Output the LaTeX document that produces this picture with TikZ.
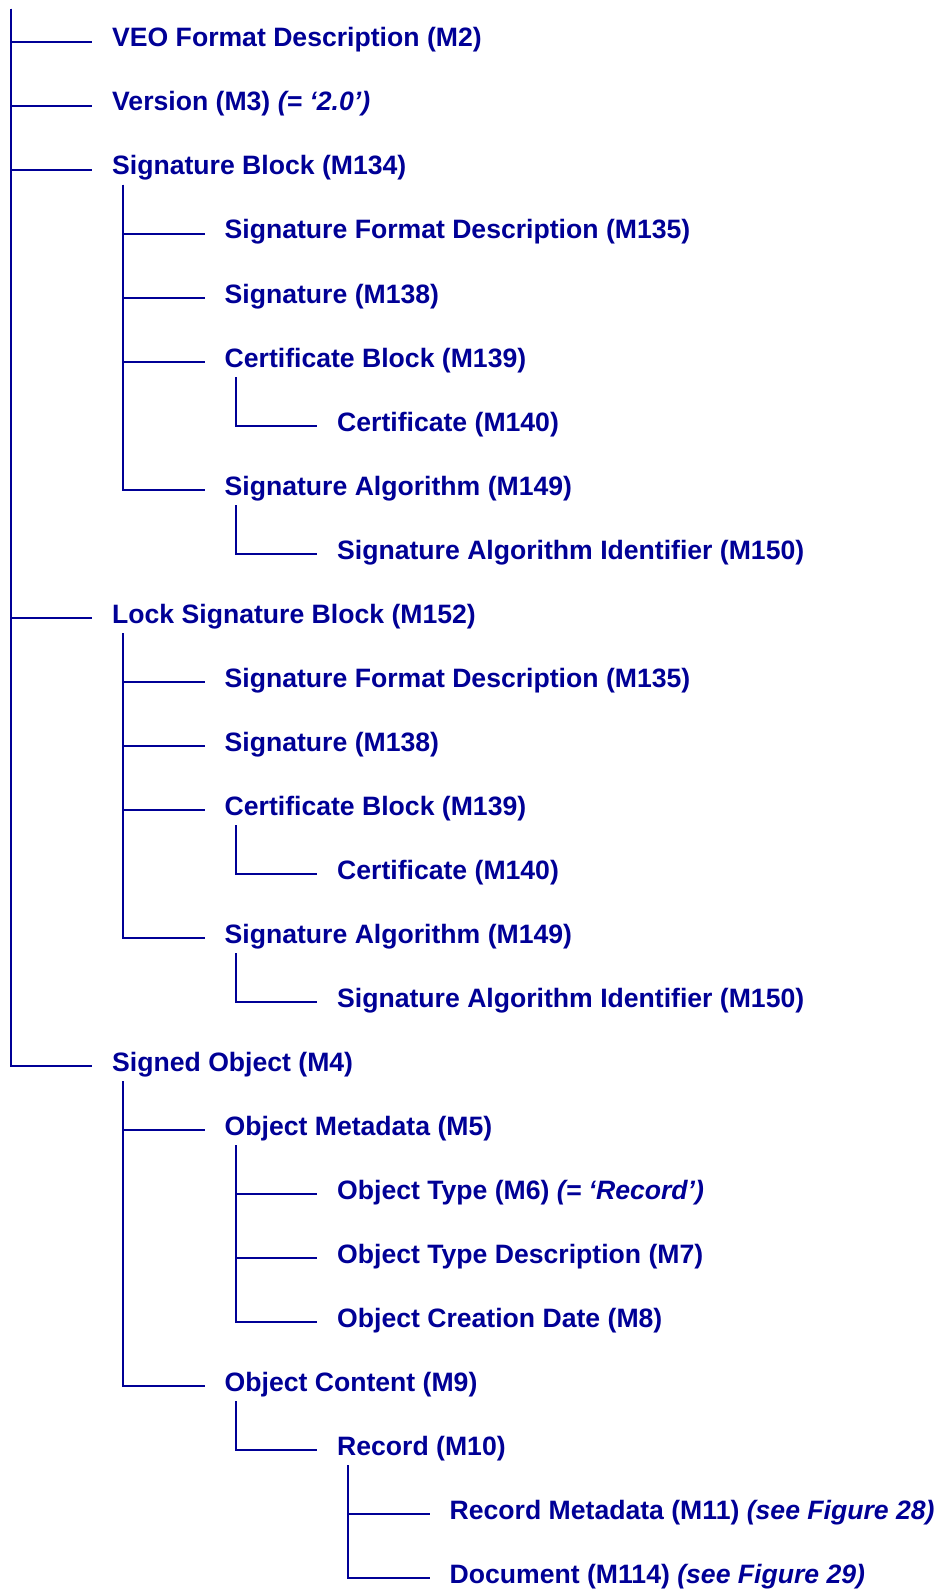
\documentclass[tikz,border=0pt]{standalone}
\usepackage{fontspec}
\setmainfont{Liberation Sans}
\definecolor{treeblue}{RGB}{0,0,150}
\begin{document}
\begin{tikzpicture}[x=1pt,y=-1pt,
  item/.style={anchor=base west, inner sep=0pt, text=treeblue,
    font=\fontsize{26.6}{32}\selectfont\bfseries},
  branch/.style={draw=treeblue, line width=2pt},
  % start of the vertical stem below a parent entry
  stem/.style={xshift=11pt, yshift=-10pt},
  % end of the horizontal branch in front of a child entry
  tip/.style={xshift=-20pt, yshift=5pt}]
\useasboundingbox (0,0) rectangle (940,1589);

% entries: baseline y = 47 + 64*row, x by level
\node[item] (veo)   at (112,47)   {VEO Format Description (M2)};
\node[item] (ver)   at (112,111)  {Version (M3) \textit{(= ‘2.0’)}};
\node[item] (sb)    at (112,175)  {Signature Block (M134)};
\node[item] (sfd1)  at (224.5,239) {Signature Format Description (M135)};
\node[item] (sig1)  at (224.5,303) {Signature (M138)};
\node[item] (cb1)   at (224.5,367) {Certificate Block (M139)};
\node[item] (cert1) at (337,431)  {Certificate (M140)};
\node[item] (sa1)   at (224.5,495) {Signature Algorithm (M149)};
\node[item] (sai1)  at (337,559)  {Signature Algorithm Identifier (M150)};
\node[item] (lsb)   at (112,623)  {Lock Signature Block (M152)};
\node[item] (sfd2)  at (224.5,687) {Signature Format Description (M135)};
\node[item] (sig2)  at (224.5,751) {Signature (M138)};
\node[item] (cb2)   at (224.5,815) {Certificate Block (M139)};
\node[item] (cert2) at (337,879)  {Certificate (M140)};
\node[item] (sa2)   at (224.5,943) {Signature Algorithm (M149)};
\node[item] (sai2)  at (337,1007) {Signature Algorithm Identifier (M150)};
\node[item] (so)    at (112,1071) {Signed Object (M4)};
\node[item] (om)    at (224.5,1135) {Object Metadata (M5)};
\node[item] (ot)    at (337,1199) {Object Type (M6) \textit{(= ‘Record’)}};
\node[item] (otd)   at (337,1263) {Object Type Description (M7)};
\node[item] (ocd)   at (337,1327) {Object Creation Date (M8)};
\node[item] (oc)    at (224.5,1391) {Object Content (M9)};
\node[item] (rec)   at (337,1455) {Record (M10)};
\node[item] (rm)    at (449.5,1519) {Record Metadata (M11) \textit{(see Figure 28)}};
\node[item] (doc)   at (449.5,1583) {Document (M114) \textit{(see Figure 29)}};

\coordinate (top) at (11,9);

% branches: stem of the parent, then across to the child
\foreach \p/\c in {top/veo, top/ver, top/sb, top/lsb, top/so}
  \draw[branch] (\p) |- ([tip]\c.base west);
\foreach \p/\c in {sb/sfd1, sb/sig1, sb/cb1, sb/sa1, cb1/cert1, sa1/sai1,
                   lsb/sfd2, lsb/sig2, lsb/cb2, lsb/sa2, cb2/cert2, sa2/sai2,
                   so/om, so/oc, om/ot, om/otd, om/ocd, oc/rec, rec/rm, rec/doc}
  \draw[branch] ([stem]\p.base west) |- ([tip]\c.base west);
\end{tikzpicture}
\end{document}
